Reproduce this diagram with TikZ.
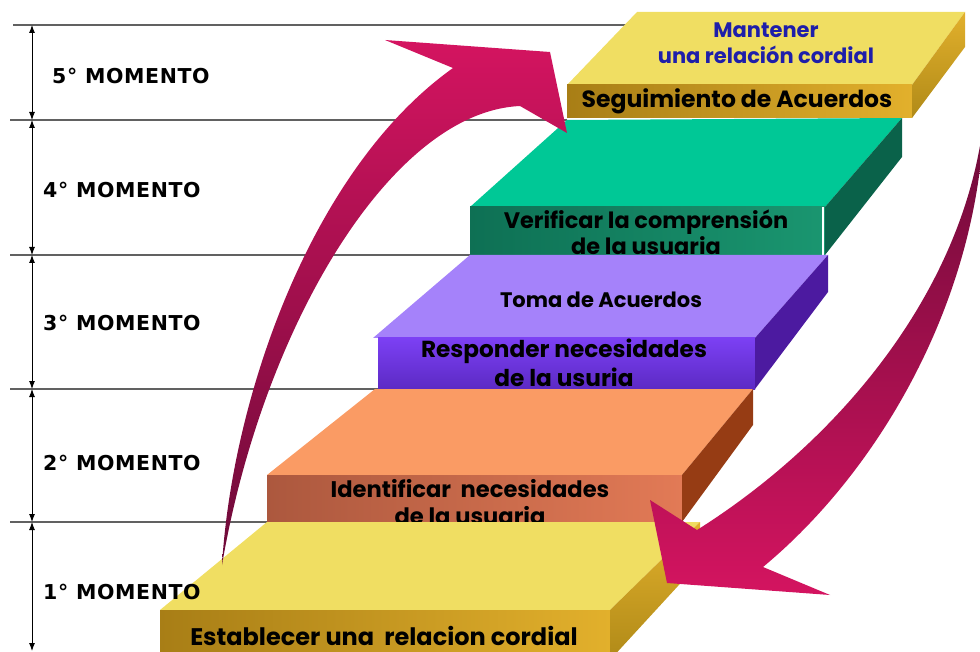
\documentclass[tikz,border=0pt]{standalone}
\usepackage{fontspec}
\newfontfamily\stepfont{Poppins}
\newfontfamily\labfont{DejaVu Sans}[LetterSpace=3]
\usetikzlibrary{arrows.meta}

\definecolor{yeltop}{RGB}{240,222,98}
\definecolor{goldA}{RGB}{168,126,22}
\definecolor{goldB}{RGB}{226,176,44}
\definecolor{goldside}{RGB}{176,138,24}
\definecolor{greentop}{RGB}{0,200,150}
\definecolor{greenA}{RGB}{14,112,84}
\definecolor{greenB}{RGB}{26,150,112}
\definecolor{greenside}{RGB}{10,98,74}
\definecolor{purptop}{RGB}{165,130,250}
\definecolor{purpA}{RGB}{124,64,244}
\definecolor{purpB}{RGB}{92,42,196}
\definecolor{purpside}{RGB}{76,26,160}
\definecolor{orgtop}{RGB}{250,155,100}
\definecolor{orgA}{RGB}{172,88,62}
\definecolor{orgB}{RGB}{226,122,86}
\definecolor{orgside}{RGB}{150,60,20}
\definecolor{arrowhi}{RGB}{212,20,96}
\definecolor{arrowlo}{RGB}{108,10,56}
\definecolor{textblue}{RGB}{30,30,170}

\begin{document}
\begin{tikzpicture}[x=1pt,y=-1pt,
  level/.style={draw=black!62,line width=1.3pt},
  dim/.style={{Latex[length=8pt,width=6pt]}-{Latex[length=8pt,width=6pt]},line width=0.9pt},
  moment/.style={font=\labfont\bfseries\fontsize{20.5}{24}\selectfont,anchor=west,inner sep=0pt},
  steptext/.style={font=\stepfont\bfseries\fontsize{23}{27}\selectfont,align=center,inner sep=0pt}]

\useasboundingbox (0,0) rectangle (980,652);

% level lines
\draw[level] (13,25) -- (637,25);
\draw[level] (10,120) -- (567,120);
\draw[level] (10,255) -- (470,255);
\draw[level] (10,389) -- (380,389);
\draw[level] (10,522) -- (267,522);

% dimension marks
\coordinate (h5) at (32,25);
\coordinate (h4) at (32,120);
\coordinate (h3) at (32,255);
\coordinate (h2) at (32,389);
\coordinate (h1) at (32,522);
\coordinate (h0) at (32,651);
\draw[dim] (h5) -- (h4);
\draw[dim] (h4) -- (h3);
\draw[dim] (h3) -- (h2);
\draw[dim] (h2) -- (h1);
\draw[dim] (h1) -- (h0);

% step 5
\fill[yeltop] (567,85) -- (637,12) -- (965,12) -- (912,85) -- cycle;
\shade[left color=goldA,right color=goldB] (567,85) rectangle (912,118);
\shade[top color=goldB,bottom color=goldside] (912,85) -- (965,12) -- (965,47) -- (912,118) -- cycle;
\node[steptext,font=\stepfont\bfseries\fontsize{21}{26}\selectfont,text=textblue] (mant) at (766,43) {Mantener\\una relación cordial};
\node[steptext,font=\stepfont\bfseries\fontsize{23.5}{27}\selectfont] (segu) at (737,101) {Seguimiento de Acuerdos};

% step 4
\fill[greentop] (470,207) -- (567,120) -- (902,118) -- (825,207) -- cycle;
\shade[left color=greenA,right color=greenB] (470,207) rectangle (825,255);
\fill[greenside] (825,207) -- (902,118) -- (902,157) -- (825,255) -- cycle;
\draw[white,line width=2pt] (823,207) -- (823,255);
\node[steptext,font=\stepfont\bfseries\fontsize{22.4}{26}\selectfont] (veri) at (646,232) {Verificar la comprensión\\de la usuaria};

% step 3
\fill[purptop] (373,338) -- (470,255) -- (828,255) -- (755,338) -- cycle;
\shade[top color=purpA,bottom color=purpB] (378,338) rectangle (755,389);
\fill[purpside] (755,338) -- (828,255) -- (828,292) -- (755,389) -- cycle;
\node[steptext,font=\stepfont\bfseries\fontsize{21}{24}\selectfont] (toma) at (601,300) {Toma de Acuerdos};
\node[steptext,font=\stepfont\bfseries\fontsize{23.2}{29}\selectfont] (resp) at (564,363) {Responder necesidades\\de la usuria};

% step 2
\fill[orgtop] (267,475) -- (375,389) -- (753,389) -- (682,475) -- cycle;
\shade[left color=orgA,right color=orgB] (267,475) rectangle (682,522);
\fill[orgside] (682,475) -- (753,389) -- (753,425) -- (682,522) -- cycle;
\node[steptext,font=\stepfont\bfseries\fontsize{22.6}{27}\selectfont] (iden) at (470,502) {Identificar\ \ necesidades\\de la usuaria};

% step 1
\fill[yeltop] (160,610) -- (267,522) -- (700,522) -- (610,610) -- cycle;
\shade[left color=goldA,right color=goldB] (160,610) rectangle (610,660);
\shade[top color=goldB,bottom color=goldside] (610,610) -- (700,522) -- (700,562) -- (610,660) -- cycle;
\node[steptext,font=\stepfont\bfseries\fontsize{24}{27}\selectfont] (esta) at (384,636) {Establecer una\ \ relacion cordial};

% moment labels
\node[moment] (m5) at (52,76) {5° MOMENTO};
\node[moment] (m4) at (43,190) {4° MOMENTO};
\node[moment] (m3) at (43,323) {3° MOMENTO};
\node[moment] (m2) at (43,463) {2° MOMENTO};
\node[moment] (m1) at (43,592) {1° MOMENTO};

% rising arrow
\shade[top color=arrowhi,bottom color=arrowlo]
  (222,565) .. controls (232,400) and (310,170) .. (453,68)
  -- (385,40) -- (550,52) -- (567,133) -- (520,106)
  .. controls (390,112) and (262,330) .. (222,565) -- cycle;

% falling arrow
\shade[top color=arrowlo,bottom color=arrowhi]
  (984,118) .. controls (978,300) and (880,470) .. (763,567)
  -- (830,595) -- (667,583) -- (650,500) -- (697,530)
  .. controls (840,440) and (965,290) .. (984,118) -- cycle;

\end{tikzpicture}
\end{document}
